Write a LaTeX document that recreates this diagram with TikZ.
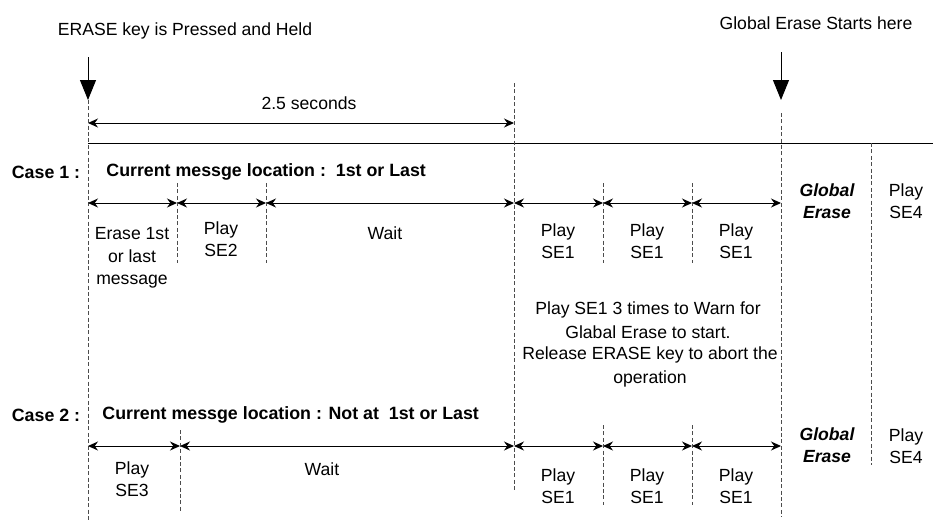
\documentclass[tikz,border=0pt]{standalone}
\usepackage{fontspec}
\setmainfont{Liberation Sans}
\usetikzlibrary{arrows.meta}
\definecolor{dashgray}{rgb}{0.3,0.3,0.3}

\begin{document}
\begin{tikzpicture}[x=0.5pt,y=-0.5pt,
    txt/.style={font=\fontsize{8.8}{11.2}\selectfont, align=center, inner sep=0pt},
    notetxt/.style={font=\fontsize{8.8}{12}\selectfont, align=center, inner sep=0pt},
    boldtxt/.style={font=\fontsize{8.9}{11}\selectfont\bfseries, align=center, inner sep=0pt},
    bitxt/.style={font=\fontsize{8.8}{11}\selectfont\bfseries\itshape, align=center, inner sep=0pt},
    marker/.style={-{Triangle[length=10pt,width=8pt]}, line width=0.5pt},
    span/.style={{Stealth[length=5pt,width=4.5pt]}-{Stealth[length=5pt,width=4.5pt]}, line width=0.5pt},
    tick/.style={draw=dashgray, line width=0.5pt, dash pattern=on 2pt off 1.2pt}]

            \useasboundingbox (0,0) rectangle (933,521);

            % key events
            \node[txt] (keytxt) at (185,31) {ERASE key is Pressed and Held};
            \node[txt] (globtxt) at (816,23) {Global Erase Starts here};
            \coordinate (k0) at (88,57);
            \coordinate (k1) at (88,100);
            \coordinate (g0) at (781,52);
            \coordinate (g1) at (781,100);
            \draw[marker] (k0) -- (k1);
            \draw[marker] (g0) -- (g1);

            % 2.5 seconds
            \coordinate (s0) at (88,123);
            \coordinate (s1) at (514,123);
            \draw[span] (s0) -- (s1);
            \node[txt] (sectxt) at (309,103) {2.5 seconds};
            \coordinate (h0) at (88,143);
            \coordinate (h1) at (933,143);
            \draw[line width=0.5pt] (h0) -- (h1);

            % long dashed lines
            \draw[tick] (88,100) -- (88,521);
            \draw[tick] (514,83) -- (514,492);
            \draw[tick] (781,113) -- (781,517);
            \draw[tick] (871,143) -- (871,465);

            % case 1
            \node[boldtxt] (case1) at (46,172) {Case 1 :};
            \node[boldtxt, anchor=west] (loc1) at (106,172) {Current messge location :~\ 1st or Last};
            \coordinate (a1) at (88,203);
            \coordinate (a2) at (177,203);
            \coordinate (a3) at (266,203);
            \coordinate (a4) at (514,203);
            \coordinate (a5) at (603,203);
            \coordinate (a6) at (692,203);
            \coordinate (a7) at (781,203);
            \draw[span] (a1) -- (a2);
            \draw[span] (a2) -- (a3);
            \draw[span] (a3) -- (a4);
            \draw[span] (a4) -- (a5);
            \draw[span] (a5) -- (a6);
            \draw[span] (a6) -- (a7);
            \draw[tick] (177,183) -- (177,263);
            \draw[tick] (266,183) -- (266,263);
            \draw[tick] (603,183) -- (603,263);
            \draw[tick] (692,183) -- (692,263);
            \node[txt] (era) at (132,258) {Erase 1st\\or last\\message};
            \node[txt] (se2) at (221,239) {Play\\SE2};
            \node[txt] (wait1) at (385,233) {Wait};
            \node[txt] (se1a) at (558,241) {Play\\SE1};
            \node[txt] (se1b) at (647,241) {Play\\SE1};
            \node[txt] (se1c) at (736,241) {Play\\SE1};
            \node[bitxt] (ge1) at (827,201) {Global\\Erase};
            \node[txt] (se4a) at (906,201) {Play\\SE4};

            % notes
            \node[notetxt] (warn) at (648,320) {Play SE1 3 times to Warn for\\Glabal Erase to start.};
            \node[notetxt] (rel) at (650,367) {Release ERASE key to abort the\\operation};

            % case 2
            \node[boldtxt] (case2) at (46,415) {Case 2 :};
            \node[boldtxt, anchor=west] (loc2) at (102,415) {Current messge location : Not at~\ 1st or Last};
            \coordinate (b1) at (88,446);
            \coordinate (b2) at (180,446);
            \coordinate (b3) at (514,446);
            \coordinate (b4) at (603,446);
            \coordinate (b5) at (692,446);
            \coordinate (b6) at (781,446);
            \draw[span] (b1) -- (b2);
            \draw[span] (b2) -- (b3);
            \draw[span] (b3) -- (b4);
            \draw[span] (b4) -- (b5);
            \draw[span] (b5) -- (b6);
            \draw[tick] (180,430) -- (180,512);
            \draw[tick] (603,425) -- (603,505);
            \draw[tick] (692,425) -- (692,505);
            \node[txt] (se3) at (132,479) {Play\\SE3};
            \node[txt] (wait2) at (322,469) {Wait};
            \node[txt] (se1d) at (558,486) {Play\\SE1};
            \node[txt] (se1e) at (647,486) {Play\\SE1};
            \node[txt] (se1f) at (736,486) {Play\\SE1};
            \node[bitxt] (ge2) at (827,445) {Global\\Erase};
            \node[txt] (se4b) at (906,446) {Play\\SE4};

\end{tikzpicture}
\end{document}
